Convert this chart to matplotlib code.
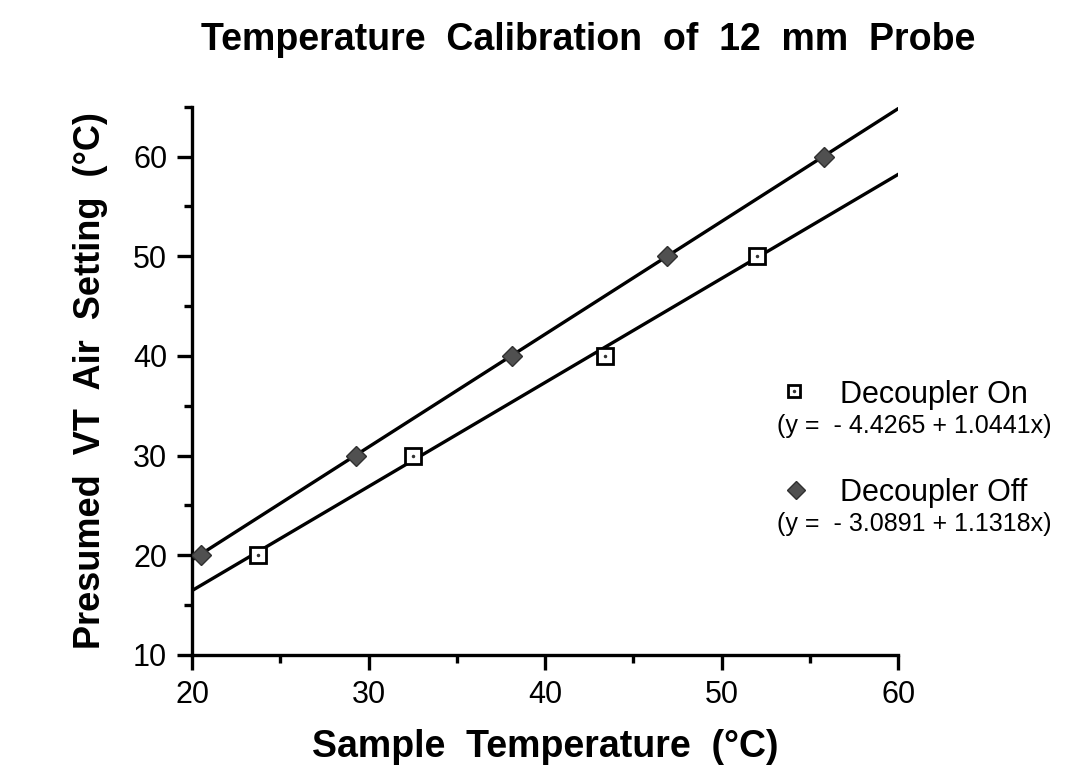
import matplotlib
matplotlib.use('Agg')
import matplotlib.pyplot as plt
from matplotlib.lines import Line2D
from matplotlib.ticker import MultipleLocator
import numpy as np

plt.rcParams['font.family'] = ['Liberation Sans', 'DejaVu Sans']

# measured points
on_x = [23.7, 32.5, 43.4, 52.0]
on_y = [20, 30, 40, 50]
off_x = [20.5, 29.3, 38.1, 46.9, 55.8]
off_y = [20, 30, 40, 50, 60]

# fit coefficients (intercept, slope) as printed on the chart
on_fit = (-4.4265, 1.0441)
off_fit = (-3.0891, 1.1318)
fit_range = [20, 60]

W, H = 1068, 774
fig = plt.figure(figsize=(W / 100, H / 100), dpi=100)
ax = fig.add_axes([0.180, 0.154, 0.661, 0.708])

xf = np.array(fit_range)
ax.plot(xf, on_fit[0] + on_fit[1] * xf, color='black', lw=2.4, zorder=2)
ax.plot(xf, off_fit[0] + off_fit[1] * xf, color='black', lw=2.4, zorder=2)

ax.plot(on_x, on_y, ls='none', marker='s', ms=11, mfc='white', mec='black', mew=2.0, zorder=3)
ax.plot(on_x, on_y, ls='none', marker='.', ms=3, color='#333333', zorder=4)
ax.plot(off_x, off_y, ls='none', marker='D', ms=10, mfc='#505050', mec='#303030', mew=1.0, zorder=3)

ax.set_xlim(20, 60)
ax.set_ylim(10, 65)
ax.xaxis.set_major_locator(MultipleLocator(10))
ax.xaxis.set_minor_locator(MultipleLocator(5))
ax.set_yticks([10, 20, 30, 40, 50, 60])
ax.yaxis.set_minor_locator(MultipleLocator(5))
ax.spines['top'].set_visible(False)
ax.spines['right'].set_visible(False)
for s in ['left', 'bottom']:
    ax.spines[s].set_linewidth(2.4)
ax.tick_params(which='major', direction='out', length=11, width=2.4, labelsize=22, pad=7)
ax.tick_params(which='minor', direction='out', length=6, width=2.4)

ax.set_xlabel('Sample  Temperature  (\u00b0C)', fontsize=27, fontweight='bold', labelpad=14)
ax.set_ylabel('Presumed  VT  Air  Setting  (\u00b0C)', fontsize=26, fontweight='bold', labelpad=18)
fig.text(588 / W, 1 - 40 / H, 'Temperature  Calibration  of  12  mm  Probe', fontsize=27,
         fontweight='bold', ha='center', va='center')

# legend block
def fx(px):
    return px / W

def fy(py):
    return 1 - py / H

fig.add_artist(Line2D([fx(794)], [fy(391)], marker='s', ms=9, mfc='white', mec='black',
                      mew=2.0, ls='none'))
fig.add_artist(Line2D([fx(794)], [fy(391)], marker='.', ms=3, color='#333333', ls='none'))
fig.text(fx(840), fy(395), 'Decoupler On', fontsize=22, va='center', ha='left')
fig.text(fx(914), fy(426), '(y =  - 4.4265 + 1.0441x)', fontsize=18, va='center', ha='center')

fig.add_artist(Line2D([fx(796)], [fy(490)], marker='D', ms=9, mfc='#505050', mec='#303030',
                      mew=1.0, ls='none'))
fig.text(fx(840), fy(493), 'Decoupler Off', fontsize=22, va='center', ha='left')
fig.text(fx(914), fy(524), '(y =  - 3.0891 + 1.1318x)', fontsize=18, va='center', ha='center')

plt.savefig('out.png', dpi=100, facecolor='white')
plt.close()
